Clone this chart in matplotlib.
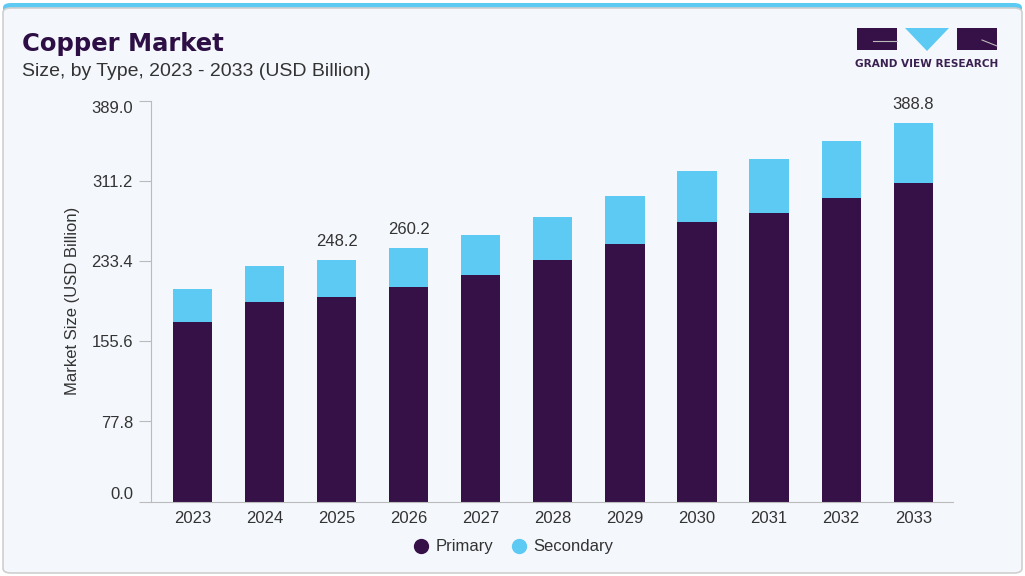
import matplotlib
matplotlib.use("Agg")
import matplotlib.pyplot as plt
from matplotlib.patches import FancyBboxPatch, Rectangle, Polygon
from matplotlib.lines import Line2D
import numpy as np

years = ["2023", "2024", "2025", "2026", "2027", "2028", "2029", "2030", "2031", "2032", "2033"]
primary = [174.7, 193.7, 198.2, 207.9, 219.5, 234.1, 250.2, 270.9, 279.9, 294.4, 308.9]
secondary = [31.3, 34.9, 35.9, 38.1, 39.7, 42.4, 46.8, 50.0, 52.9, 55.6, 58.1]
label_idx = [2, 3, 10]
label_text = ["248.2", "260.2", "388.8"]
yticks = [0.0, 77.8, 155.6, 233.4, 311.2, 389.0]

C_PRI = "#361148"
C_SEC = "#5DCAF3"
BG = "#F4F8FC"
TXT = "#333333"
FONT = ["Liberation Sans", "DejaVu Sans"]

fig = plt.figure(figsize=(10.25, 5.76), dpi=100)
fig.patch.set_facecolor("white")
W, H = 1025, 576

def fx(px):
    return px / W

def fy(py):
    return 1 - py / H

# outer card
fig.patches.append(FancyBboxPatch((fx(3), fy(573)), fx(1019), 570 / H,
                                  boxstyle="round,pad=0,rounding_size=0.008",
                                  transform=fig.transFigure, facecolor=C_SEC,
                                  edgecolor="none", zorder=-20))
fig.patches.append(FancyBboxPatch((fx(3), fy(573)), fx(1019), 565 / H,
                                  boxstyle="round,pad=0,rounding_size=0.008",
                                  transform=fig.transFigure, facecolor=BG,
                                  edgecolor="#CFCFCF", linewidth=1.2, zorder=-10))

ax = fig.add_axes([fx(151), fy(501.7), fx(953 - 151), (501.7 - 100.7) / H])
ax.set_zorder(5)
ax.set_facecolor("none")
x = np.arange(len(years))
w = 0.545
ax.bar(x, primary, width=w, color=C_PRI, zorder=2)
ax.bar(x, secondary, width=w, bottom=primary, color=C_SEC, zorder=2)

for i, t in zip(label_idx, label_text):
    ax.annotate(t, (x[i], primary[i] + secondary[i]), xytext=(0, 8),
                textcoords="offset points", ha="center", va="bottom",
                fontsize=12, color=TXT, family=FONT)

ax.set_xlim(-0.573, 10.55)
ax.set_ylim(0, 389)
ax.set_yticks(yticks)
ax.set_yticklabels([f"{v:.1f}" for v in yticks])
ax.set_xticks(x)
ax.set_xticklabels(years)
for s in ["top", "right"]:
    ax.spines[s].set_visible(False)
ax.spines["left"].set_color("#BBBBBB")
ax.spines["bottom"].set_color("#BBBBBB")
ax.tick_params(axis="y", length=9, color="#BBBBBB", pad=4, labelsize=12, labelcolor=TXT)
ax.tick_params(axis="x", length=0, pad=7, labelsize=12, labelcolor=TXT)
for lab in ax.get_xticklabels() + ax.get_yticklabels():
    lab.set_family(FONT)
ylabs = ax.get_yticklabels()
ylabs[0].set_verticalalignment("bottom")
ylabs[-1].set_verticalalignment("top")
ax.set_ylabel("Market Size (USD Billion)", fontsize=12, color=TXT, family=FONT, labelpad=8)

# legend
handles = [Line2D([0], [0], marker="o", linestyle="none", markersize=10,
                  markerfacecolor=C_PRI, markeredgecolor=C_PRI, label="Primary"),
           Line2D([0], [0], marker="o", linestyle="none", markersize=10,
                  markerfacecolor=C_SEC, markeredgecolor=C_SEC, label="Secondary")]
leg = fig.legend(handles=handles, loc="center", bbox_to_anchor=(fx(513), fy(547)),
                 ncol=2, frameon=False, handlelength=1.0, handletextpad=0.4,
                 columnspacing=1.0, prop={"family": FONT, "size": 12})
for t in leg.get_texts():
    t.set_color(TXT)

# titles
fig.text(fx(22), fy(51), "Copper Market", fontsize=17.5, fontweight="bold",
         color="#2E0F45", family=["DejaVu Sans"], ha="left", va="baseline")
fig.text(fx(22), fy(76), "Size, by Type, 2023 - 2033 (USD Billion)", fontsize=14,
         color=TXT, family=FONT, ha="left", va="baseline")

# logo
fig.patches.append(Rectangle((fx(857), fy(50)), fx(40), 22 / H, transform=fig.transFigure,
                             facecolor=C_PRI, edgecolor="none"))
fig.patches.append(Rectangle((fx(957), fy(50)), fx(40), 22 / H, transform=fig.transFigure,
                             facecolor=C_PRI, edgecolor="none"))
fig.patches.append(Polygon([(fx(905), fy(28)), (fx(949), fy(28)), (fx(927), fy(51))],
                           closed=True, transform=fig.transFigure,
                           facecolor=C_SEC, edgecolor="none"))
fig.lines.append(Line2D([fx(873), fx(897)], [fy(41), fy(41)], transform=fig.transFigure,
                        color="#BBBBBB", linewidth=0.8))
fig.lines.append(Line2D([fx(982), fx(997)], [fy(40), fy(46)], transform=fig.transFigure,
                        color="#BBBBBB", linewidth=0.8))
fig.text(fx(927), fy(64), "GRAND VIEW RESEARCH", fontsize=7.6, fontweight="bold",
         color="#3A2050", family=["DejaVu Sans"], ha="center", va="center")

fig.savefig("out.png", dpi=100, facecolor=fig.get_facecolor())
